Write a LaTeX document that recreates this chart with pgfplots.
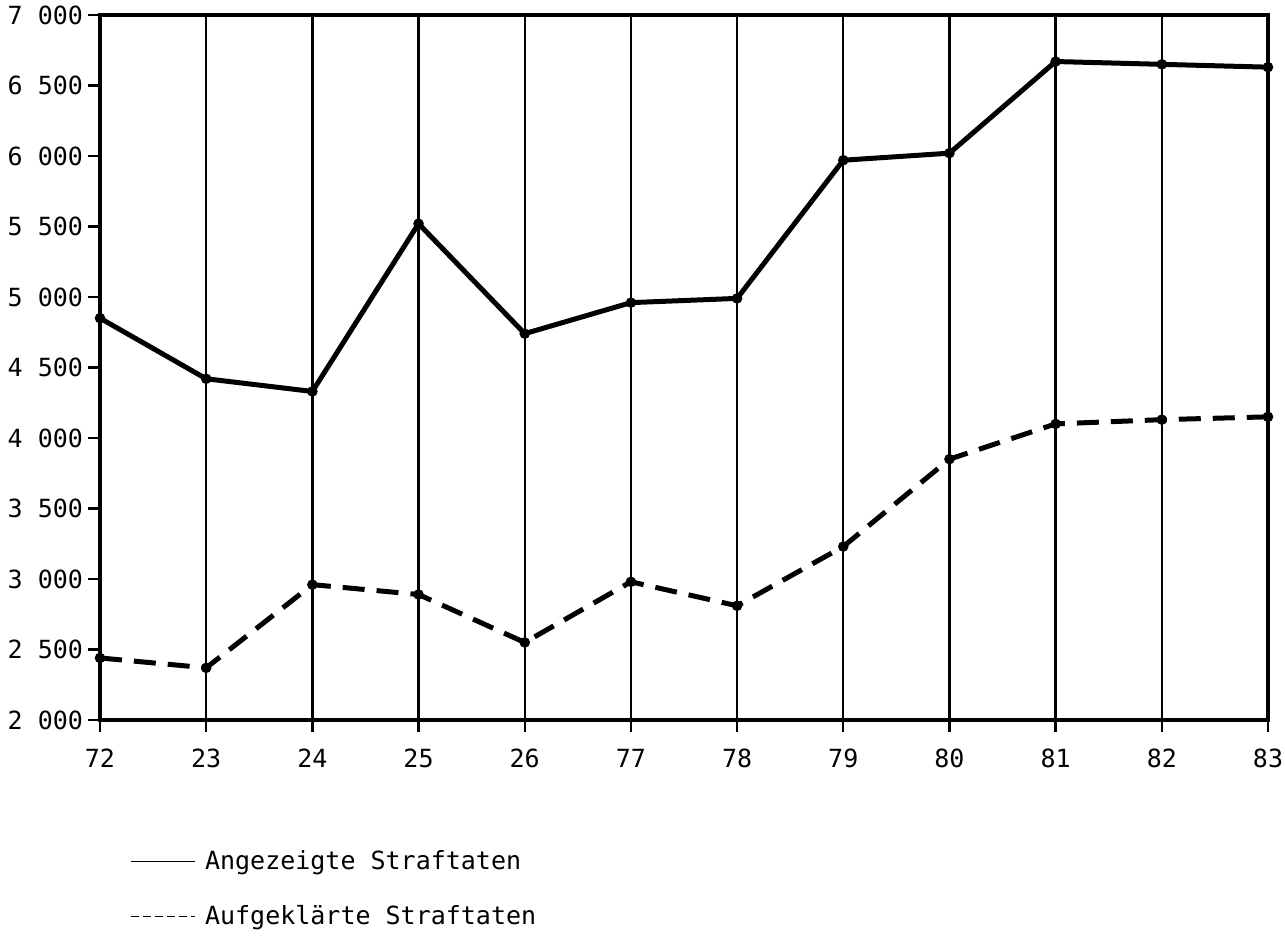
\documentclass[border=0pt]{standalone}
\usepackage{fontspec}
\setmainfont{DejaVu Sans Mono}
\usepackage{pgfplots}
\pgfplotsset{compat=1.18}
\begin{document}
\begin{tikzpicture}
\begin{axis}[
  scale only axis, width=584pt, height=352.5pt,
  xmin=72, xmax=83, ymin=2000, ymax=7000,
  xtick={72,...,83},
  xticklabels={72,23,24,25,26,77,78,79,80,81,82,83},
  ytick={2000,2500,...,7000},
  yticklabels={2 000,2 500,3 000,3 500,4 000,4 500,5 000,5 500,6 000,6 500,7 000},
  tick align=outside, tick pos=left,
  major tick length=6pt,
  xmajorgrids, grid style={black, line width=1.2pt},
  axis line style={line width=1.6pt},
  every tick/.style={black, line width=1.2pt},
  ticklabel style={font=\fontsize{12.5}{14}\selectfont},
  yticklabel style={xshift=1pt},
  xticklabel style={yshift=-5pt},
  legend style={draw=none, fill=none, at={(0.02,-0.173)}, anchor=north west,
    font=\fontsize{12.5}{14}\selectfont, row sep=12.5pt},
  legend cell align=left,
]
\addplot[black, line width=2.5pt, mark=*, mark size=1.3pt,
  legend image code/.code={\draw[line width=0.8pt] (0pt,0pt) -- (32pt,0pt);\path (34pt,0pt);}]
  coordinates {(72,4850) (73,4420) (74,4330) (75,5520) (76,4740) (77,4960)
               (78,4990) (79,5970) (80,6020) (81,6670) (82,6650) (83,6630)};
\addlegendentry{Angezeigte Straftaten}
\addplot[black, line width=2.5pt, dash pattern=on 11pt off 6pt, mark=*, mark size=1.3pt,
  mark options={solid},
  legend image code/.code={\draw[line width=0.8pt, dash pattern=on 4pt off 2pt] (0pt,0pt) -- (32pt,0pt);\path (34pt,0pt);}]
  coordinates {(72,2440) (73,2370) (74,2960) (75,2890) (76,2550) (77,2980)
               (78,2810) (79,3230) (80,3850) (81,4100) (82,4130) (83,4150)};
\addlegendentry{Aufgeklärte Straftaten}
\end{axis}
\pgfresetboundingbox
\path[use as bounding box] ([shift={(-50pt,-109.5pt)}]current axis.south west)
  rectangle ([shift={(8.5pt,7.5pt)}]current axis.north east);
\end{tikzpicture}
\end{document}
